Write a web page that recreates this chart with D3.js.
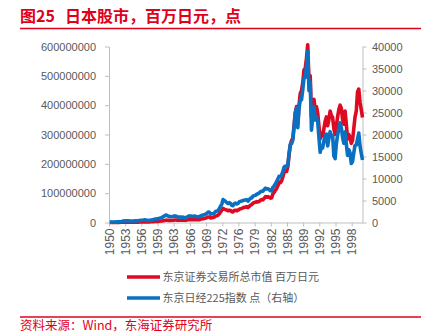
<!DOCTYPE html>
<html><head><meta charset="utf-8">
<script src="https://cdn.jsdelivr.net/npm/d3@7/dist/d3.min.js"></script>
<style>body{margin:0;background:#fff;overflow:hidden}</style>
</head><body><svg id="c" width="425" height="333"></svg>
<script>
// ---------- DATA ----------
const startYear = 1950;
const endYear = 2000;
const tickLabels = ["1950","1953","1956","1959","1963","1966","1969","1972","1976","1979","1982","1985","1989","1992","1995","1998"];
const leftTicks = [0,100000000,200000000,300000000,400000000,500000000,600000000];
const rightTicks = [0,5000,10000,15000,20000,25000,30000,35000,40000];
const seriesNames = ["东京证券交易所总市值 百万日元","东京日经225指数 点（右轴）"];
// quarterly values (Mar, Jun, Sep, Dec) 1950-2000
// 东京证券交易所总市值, 百万日元
const marketCap = [
200000,180000,190000,200000,
250000,300000,400000,400000,
500000,600000,800000,1000000,
950000,1000000,1050000,1050000,
1000000,950000,950000,1050000,
1100000,1150000,1300000,1400000,
1600000,1800000,1900000,2100000,
2300000,2200000,2000000,1900000,
2100000,2300000,2500000,2800000,
3200000,3500000,3800000,4000000,
4400000,4900000,5400000,6300000,
7000000,8000000,7800000,7200000,
7300000,7000000,7400000,7900000,
8500000,8400000,8000000,7500000,
7700000,7800000,7600000,7700000,
7500000,7300000,8300000,9300000,
10000000,9800000,9600000,9800000,
10000000,9800000,9200000,9200000,
9800000,11000000,12500000,13200000,
14000000,15000000,16800000,19000000,
18500000,15500000,16500000,16800000,
19000000,22000000,23000000,25000000,
30000000,36000000,42000000,48000000,
45000000,44000000,42000000,40000000,
42000000,41000000,37000000,36000000,
41000000,42000000,40000000,42000000,
45000000,47000000,48000000,50000000,
52000000,52000000,54000000,51000000,
55000000,59000000,61000000,66000000,
68000000,69000000,71000000,70000000,
72000000,76000000,78000000,77000000,
82000000,88000000,86000000,88000000,
86000000,83000000,84000000,98000000,
103000000,110000000,116000000,125000000,
138000000,136000000,142000000,155000000,
170000000,175000000,174000000,190000000,
230000000,265000000,280000000,287000000,
330000000,375000000,395000000,336000000,
400000000,440000000,450000000,476000000,
520000000,525000000,560000000,606000000,
480000000,500000000,360000000,379000000,
420000000,385000000,395000000,373000000,
330000000,285000000,305000000,295000000,
320000000,345000000,360000000,330000000,
350000000,380000000,365000000,358000000,
320000000,300000000,330000000,360000000,
385000000,400000000,390000000,350000000,
335000000,380000000,335000000,285000000,
300000000,290000000,270000000,280000000,
320000000,360000000,380000000,445000000,
455000000,410000000,385000000,358000000
];
// 东京日经225指数, 点
const nikkei = [
106,95,98,101,
120,140,170,166,
190,230,280,362,
340,360,380,377,
340,330,320,356,
360,370,400,425,
460,500,520,549,
590,560,520,474,
520,560,600,666,
740,800,850,874,
950,1050,1150,1356,
1500,1700,1600,1432,
1400,1300,1350,1420,
1500,1450,1350,1225,
1250,1250,1200,1216,
1150,1100,1250,1417,
1500,1450,1400,1430,
1450,1400,1300,1283,
1350,1500,1650,1715,
1800,1900,2100,2358,
2300,1900,2000,1987,
2200,2500,2600,2713,
3200,3700,4200,5208,
5000,4800,4500,4306,
4500,4300,3900,3817,
4300,4400,4200,4358,
4700,4800,4900,4991,
5100,5100,5200,4866,
5200,5500,5600,6002,
6100,6200,6400,6569,
6700,7000,7100,7116,
7500,7800,7600,7681,
7500,7200,7200,8017,
8300,8800,9300,9894,
10500,10400,10800,11543,
12600,12800,12700,13113,
15800,17700,17900,18701,
21600,24900,26000,21564,
26000,27800,27900,30159,
32800,33000,35600,38916,
29980,31940,20984,23849,
26290,23290,23920,22984,
19346,15952,17399,16925,
18591,19590,20106,17417,
19112,20644,19564,19723,
15140,14517,17913,19868,
21407,22667,21556,19361,
18003,20605,17888,15259,
16527,15830,13406,13842,
15837,17530,17605,18934,
20337,17411,15747,14200
];

// ---------- CATEGORIES ----------
const months = [];
for (let y = startYear; y <= endYear; y++) for (let m = 1; m <= 12; m++) months.push(y + "-" + m);
const quarterMonths = [];
for (let y = startYear; y <= endYear; y++) for (const m of [3,6,9,12]) quarterMonths.push(y + "-" + m);
const tickMonths = months.filter((d, i) => i % 39 === 0);

// ---------- LAYOUT ----------
const svg = d3.select("#c");
const L = 109, R = 362.5, T = 46.5, B = 222.5;
const RED = "#de0a22", BLUE = "#0a70c2", AX = "#bfbfbf", TXT = "#595959";
const numFont = "'Liberation Sans', Arial, sans-serif";
const cjkFont = "'Noto Sans CJK SC', 'Liberation Sans', sans-serif";

const x = d3.scalePoint().domain(months).range([L, R]);
const yL = d3.scaleLinear().domain([0, 600000000]).range([B, T]);
const yR = d3.scaleLinear().domain([0, 40000]).range([B, T]);

// Title
svg.append("text").attr("x", 20).attr("y", 22)
  .attr("font-family", cjkFont).attr("font-size", 16).attr("font-weight", "bold")
  .attr("fill", "#e0001b").text("图25");
svg.append("text").attr("x", 65).attr("y", 22)
  .attr("font-family", cjkFont).attr("font-size", 16).attr("font-weight", "bold")
  .attr("fill", "#e0001b").text("日本股市，百万日元，点");
svg.append("line").attr("x1", 20).attr("x2", 421).attr("y1", 28.5).attr("y2", 28.5)
  .attr("stroke", "#e0001b").attr("stroke-width", 1.3);

// Axes
function styleAxis(g) {
  g.selectAll("path.domain").attr("stroke", AX).attr("stroke-width", 1);
  g.selectAll(".tick line").attr("stroke", AX);
  g.selectAll(".tick text").attr("fill", TXT).attr("font-family", numFont);
}
const gl = svg.append("g").attr("transform", `translate(${L},0)`)
  .call(d3.axisLeft(yL).tickValues(leftTicks).tickSize(4).tickSizeOuter(0).tickPadding(9).tickFormat(d3.format("d")));
styleAxis(gl); gl.selectAll(".tick text").attr("font-size", 11);

const gr = svg.append("g").attr("transform", `translate(${R},0)`)
  .call(d3.axisRight(yR).tickValues(rightTicks).tickSize(4).tickSizeOuter(0).tickPadding(5.5).tickFormat(d3.format("d")));
styleAxis(gr); gr.selectAll(".tick text").attr("font-size", 11);

const gx = svg.append("g").attr("transform", `translate(0,${B})`)
  .call(d3.axisBottom(x).tickValues(tickMonths).tickSize(4).tickSizeOuter(0)
    .tickFormat((d, i) => tickLabels[i]));
styleAxis(gx);
gx.selectAll(".tick text").attr("font-size", 12)
  .attr("transform", "rotate(-90)").attr("text-anchor", "end")
  .attr("x", -6).attr("y", 0).attr("dy", "0.35em");

// Lines
const capLine = d3.line().x((d, i) => x(quarterMonths[i])).y(d => yL(d));
const nkLine = d3.line().x((d, i) => x(quarterMonths[i])).y(d => yR(d));
svg.append("path").datum(marketCap).attr("d", capLine)
  .attr("fill", "none").attr("stroke", RED).attr("stroke-width", 3.6).attr("stroke-linejoin", "round");
svg.append("path").datum(nikkei).attr("d", nkLine)
  .attr("fill", "none").attr("stroke", BLUE).attr("stroke-width", 3.6).attr("stroke-linejoin", "round");

// Legend
const legY = [277, 298];
[RED, BLUE].forEach((c, i) => {
  svg.append("line").attr("x1", 127).attr("x2", 160).attr("y1", legY[i]).attr("y2", legY[i])
    .attr("stroke", c).attr("stroke-width", 3.6);
  svg.append("text").attr("x", 162.5).attr("y", legY[i]).attr("dy", "0.36em")
    .attr("font-family", cjkFont).attr("font-size", 11).attr("fill", TXT).text(seriesNames[i]);
});

// Source
svg.append("line").attr("x1", 20).attr("x2", 421).attr("y1", 317).attr("y2", 317)
  .attr("stroke", "#e0001b").attr("stroke-width", 1.3);
svg.append("text").attr("x", 20).attr("y", 329.5)
  .attr("font-family", cjkFont).attr("font-size", 12.5).attr("fill", "#e0001b")
  .text("资料来源：Wind，东海证券研究所");
</script></body></html>
